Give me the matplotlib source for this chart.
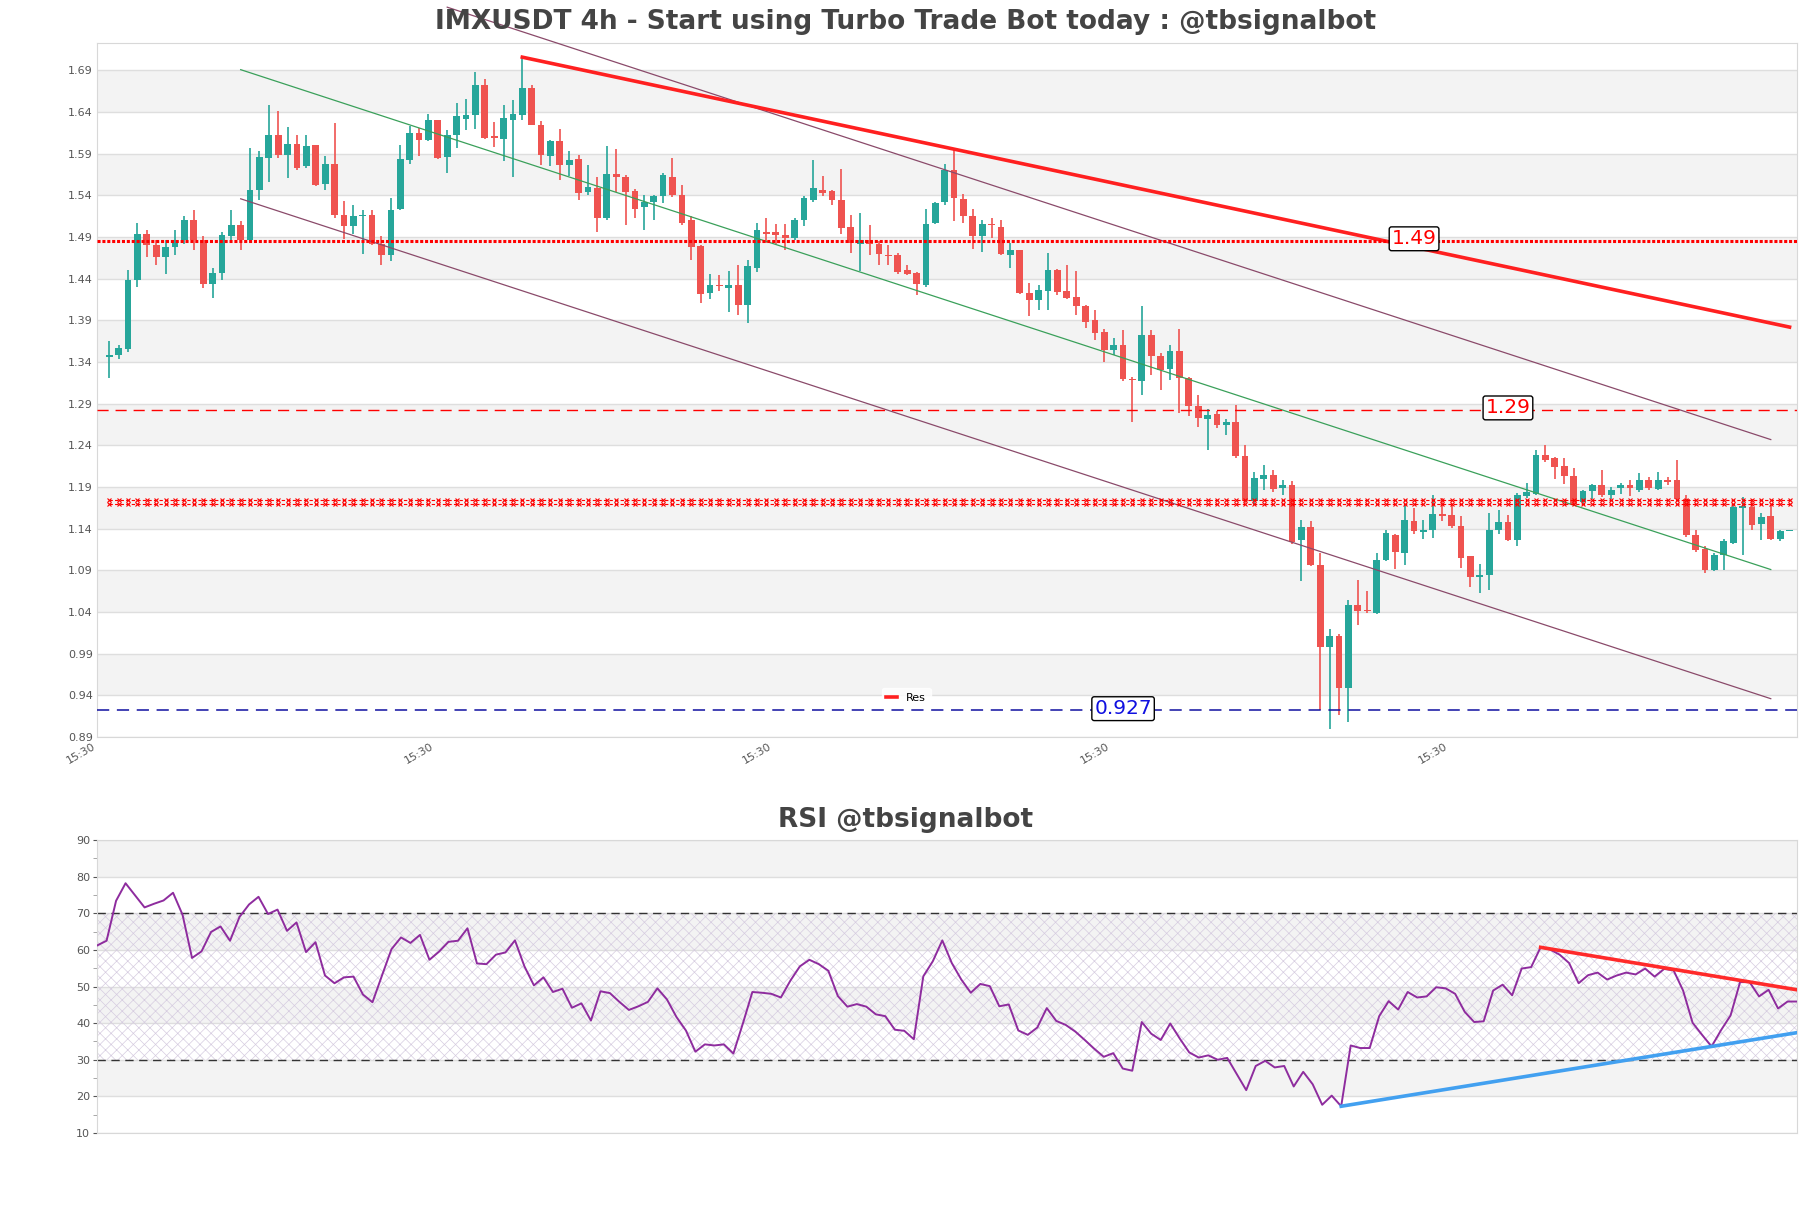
import numpy as np
import matplotlib
matplotlib.use('Agg')
import matplotlib.pyplot as plt

# IMXUSDT 4h candles (open, high, low, close)
opens = [1.350, 1.353, 1.360, 1.442, 1.498, 1.485, 1.470, 1.482, 1.491, 1.515,
         1.491, 1.438, 1.451, 1.495, 1.508, 1.490, 1.550, 1.589, 1.616, 1.593,
         1.606, 1.579, 1.605, 1.558, 1.582, 1.521, 1.507, 1.519, 1.521, 1.486,
         1.472, 1.528, 1.586, 1.619, 1.610, 1.634, 1.590, 1.617, 1.636, 1.640,
         1.676, 1.615, 1.612, 1.635, 1.640, 1.673, 1.629, 1.591, 1.609, 1.580,
         1.588, 1.548, 1.553, 1.517, 1.570, 1.566, 1.549, 1.530, 1.536, 1.543,
         1.566, 1.545, 1.514, 1.483, 1.427, 1.437, 1.433, 1.436, 1.413, 1.457,
         1.500, 1.500, 1.497, 1.493, 1.514, 1.538, 1.551, 1.549, 1.539, 1.506,
         1.486, 1.491, 1.486, 1.473, 1.472, 1.454, 1.451, 1.436, 1.511, 1.536,
         1.574, 1.540, 1.519, 1.495, 1.510, 1.506, 1.473, 1.478, 1.427, 1.419,
         1.429, 1.455, 1.429, 1.422, 1.411, 1.394, 1.380, 1.358, 1.364, 1.324,
         1.321, 1.376, 1.351, 1.336, 1.357, 1.325, 1.291, 1.276, 1.282, 1.268,
         1.272, 1.231, 1.177, 1.204, 1.209, 1.193, 1.196, 1.130, 1.146, 1.101,
         1.002, 1.015, 0.953, 1.052, 1.047, 1.043, 1.106, 1.137, 1.115, 1.153,
         1.140, 1.142, 1.162, 1.160, 1.147, 1.111, 1.086, 1.088, 1.142, 1.152,
         1.130, 1.183, 1.186, 1.232, 1.229, 1.219, 1.207, 1.176, 1.189, 1.196,
         1.185, 1.193, 1.196, 1.191, 1.202, 1.192, 1.203, 1.202, 1.180, 1.137,
         1.120, 1.094, 1.113, 1.127, 1.169, 1.170, 1.150, 1.159, 1.132, 1.141]
highs = [1.369, 1.364, 1.454, 1.511, 1.503, 1.491, 1.490, 1.503, 1.519, 1.527,
         1.495, 1.457, 1.500, 1.527, 1.513, 1.601, 1.597, 1.652, 1.645, 1.626,
         1.617, 1.616, 1.605, 1.591, 1.631, 1.537, 1.533, 1.526, 1.527, 1.495,
         1.541, 1.604, 1.627, 1.625, 1.642, 1.635, 1.622, 1.655, 1.660, 1.692,
         1.684, 1.632, 1.652, 1.659, 1.710, 1.676, 1.633, 1.611, 1.624, 1.597,
         1.592, 1.581, 1.566, 1.603, 1.600, 1.569, 1.552, 1.545, 1.544, 1.571,
         1.589, 1.557, 1.519, 1.485, 1.450, 1.449, 1.453, 1.460, 1.467, 1.511,
         1.517, 1.510, 1.510, 1.517, 1.543, 1.587, 1.567, 1.550, 1.576, 1.520,
         1.523, 1.509, 1.489, 1.484, 1.475, 1.460, 1.452, 1.528, 1.536, 1.582,
         1.600, 1.546, 1.528, 1.515, 1.517, 1.514, 1.487, 1.479, 1.439, 1.436,
         1.475, 1.456, 1.461, 1.453, 1.412, 1.407, 1.384, 1.373, 1.382, 1.326,
         1.411, 1.382, 1.355, 1.365, 1.384, 1.326, 1.304, 1.288, 1.285, 1.276,
         1.292, 1.244, 1.212, 1.220, 1.214, 1.203, 1.201, 1.154, 1.153, 1.115,
         1.024, 1.018, 1.058, 1.083, 1.069, 1.115, 1.142, 1.138, 1.173, 1.169,
         1.155, 1.185, 1.181, 1.173, 1.159, 1.111, 1.102, 1.163, 1.166, 1.160,
         1.187, 1.199, 1.239, 1.244, 1.230, 1.229, 1.217, 1.191, 1.198, 1.214,
         1.194, 1.199, 1.202, 1.211, 1.206, 1.212, 1.206, 1.226, 1.184, 1.142,
         1.123, 1.115, 1.132, 1.172, 1.182, 1.180, 1.163, 1.172, 1.143, 1.142]
lows = [1.325, 1.348, 1.356, 1.434, 1.470, 1.461, 1.450, 1.473, 1.486, 1.478,
        1.433, 1.421, 1.443, 1.487, 1.478, 1.489, 1.538, 1.560, 1.589, 1.565,
        1.575, 1.577, 1.555, 1.551, 1.517, 1.492, 1.498, 1.474, 1.484, 1.460,
        1.465, 1.527, 1.582, 1.591, 1.609, 1.588, 1.571, 1.601, 1.622, 1.624,
        1.612, 1.602, 1.585, 1.566, 1.634, 1.628, 1.581, 1.579, 1.563, 1.567,
        1.539, 1.545, 1.500, 1.515, 1.548, 1.508, 1.517, 1.503, 1.515, 1.535,
        1.542, 1.509, 1.466, 1.415, 1.420, 1.429, 1.404, 1.400, 1.391, 1.452,
        1.487, 1.486, 1.479, 1.491, 1.507, 1.536, 1.543, 1.532, 1.498, 1.475,
        1.453, 1.472, 1.460, 1.461, 1.450, 1.448, 1.425, 1.434, 1.510, 1.533,
        1.513, 1.511, 1.480, 1.476, 1.493, 1.473, 1.457, 1.426, 1.399, 1.406,
        1.406, 1.425, 1.420, 1.401, 1.385, 1.371, 1.344, 1.352, 1.321, 1.272,
        1.305, 1.328, 1.310, 1.322, 1.283, 1.279, 1.266, 1.238, 1.265, 1.257,
        1.229, 1.175, 1.173, 1.190, 1.188, 1.185, 1.126, 1.081, 1.099, 0.927,
        0.904, 0.920, 0.912, 1.029, 1.043, 1.042, 1.105, 1.096, 1.101, 1.138,
        1.132, 1.133, 1.153, 1.145, 1.097, 1.074, 1.067, 1.070, 1.138, 1.129,
        1.123, 1.181, 1.185, 1.224, 1.204, 1.198, 1.173, 1.172, 1.180, 1.182,
        1.180, 1.186, 1.183, 1.188, 1.190, 1.190, 1.196, 1.179, 1.134, 1.116,
        1.091, 1.093, 1.094, 1.126, 1.112, 1.142, 1.130, 1.131, 1.129, 1.141]
closes = [1.353, 1.361, 1.442, 1.498, 1.485, 1.470, 1.482, 1.491, 1.515, 1.491,
          1.438, 1.451, 1.496, 1.508, 1.490, 1.550, 1.590, 1.616, 1.593, 1.606,
          1.577, 1.603, 1.557, 1.582, 1.521, 1.507, 1.519, 1.521, 1.486, 1.473,
          1.527, 1.588, 1.619, 1.610, 1.634, 1.589, 1.617, 1.639, 1.641, 1.676,
          1.613, 1.613, 1.637, 1.642, 1.673, 1.629, 1.593, 1.609, 1.580, 1.586,
          1.547, 1.554, 1.517, 1.570, 1.566, 1.548, 1.528, 1.536, 1.543, 1.568,
          1.544, 1.511, 1.482, 1.426, 1.437, 1.435, 1.437, 1.413, 1.459, 1.502,
          1.498, 1.497, 1.493, 1.515, 1.541, 1.553, 1.547, 1.538, 1.505, 1.487,
          1.490, 1.486, 1.474, 1.471, 1.452, 1.450, 1.438, 1.510, 1.535, 1.574,
          1.541, 1.519, 1.495, 1.510, 1.508, 1.474, 1.478, 1.427, 1.419, 1.430,
          1.455, 1.428, 1.421, 1.411, 1.392, 1.379, 1.359, 1.364, 1.324, 1.322,
          1.376, 1.351, 1.335, 1.357, 1.325, 1.291, 1.277, 1.281, 1.268, 1.272,
          1.231, 1.177, 1.205, 1.209, 1.192, 1.196, 1.128, 1.146, 1.101, 1.002,
          1.015, 0.953, 1.052, 1.045, 1.045, 1.107, 1.139, 1.116, 1.154, 1.141,
          1.142, 1.162, 1.159, 1.147, 1.109, 1.086, 1.089, 1.142, 1.152, 1.130,
          1.184, 1.188, 1.232, 1.227, 1.218, 1.207, 1.174, 1.189, 1.196, 1.184,
          1.191, 1.196, 1.193, 1.202, 1.193, 1.202, 1.200, 1.180, 1.137, 1.118,
          1.094, 1.113, 1.129, 1.170, 1.171, 1.149, 1.158, 1.132, 1.141, 1.142]

rsi = [61.2, 62.5, 73.4, 78.2, 74.9, 71.6, 72.6, 73.5, 75.6, 69.6,
       57.8, 59.6, 64.9, 66.4, 62.5, 69.0, 72.4, 74.5, 69.8, 71.0,
       65.2, 67.5, 59.4, 62.1, 53.0, 50.9, 52.5, 52.7, 47.8, 45.7,
       53.0, 60.2, 63.4, 61.9, 64.1, 57.3, 59.5, 62.2, 62.5, 65.9,
       56.3, 56.1, 58.7, 59.3, 62.6, 55.5, 50.3, 52.5, 48.5, 49.4,
       44.2, 45.4, 40.7, 48.7, 48.2, 45.8, 43.6, 44.6, 45.8, 49.5,
       46.5, 41.7, 38.0, 32.2, 34.2, 33.9, 34.2, 31.7, 39.9, 48.5,
       48.3, 48.0, 47.0, 51.6, 55.5, 57.3, 56.1, 54.3, 47.4, 44.5,
       45.2, 44.5, 42.4, 41.9, 38.2, 37.9, 35.6, 52.8, 56.9, 62.6,
       56.4, 51.9, 48.3, 50.7, 50.1, 44.6, 45.1, 38.0, 36.8, 38.8,
       44.1, 40.6, 39.5, 37.7, 35.4, 33.0, 30.8, 31.8, 27.6, 27.0,
       40.3, 37.1, 35.4, 39.9, 35.8, 32.0, 30.6, 31.2, 30.0, 30.5,
       26.1, 21.7, 28.3, 29.7, 27.9, 28.3, 22.7, 26.7, 23.3, 17.7,
       20.2, 17.3, 33.9, 33.2, 33.2, 41.9, 46.0, 43.7, 48.5, 47.0,
       47.3, 49.8, 49.5, 48.0, 43.1, 40.3, 40.5, 48.9, 50.5, 47.6,
       54.9, 55.3, 60.7, 60.1, 58.7, 56.4, 50.9, 53.1, 53.8, 51.9,
       53.0, 53.8, 53.3, 54.9, 52.7, 54.8, 54.4, 48.9, 40.1, 36.8,
       33.6, 38.1, 42.1, 51.2, 51.2, 47.3, 49.1, 44.0, 45.9, 45.9]

# trend lines: (start index, start value, end index, end value)
res_line = (44, 1.710, 179, 1.386)
channel_top = (36, 1.770, 177, 1.251)
channel_mid = (14, 1.695, 177, 1.095)
channel_low = (14, 1.540, 177, 0.940)
rsi_res = (152, 60.7, 179, 49.1)
rsi_sup = (131, 17.3, 179, 37.4)

# horizontal levels and their labels
level_149 = 1.4897
level_129 = 1.2865
level_0927 = 0.927
level_mid = [1.1785, 1.1735]
label_149 = (139, 1.492, '1.49')
label_129 = (149, 1.289, '1.29')
label_0927 = (108, 0.928, '0.927')

yticks = np.arange(0.894, 1.70, 0.05)
rsi_ticks = np.arange(10, 91, 10)
xtick_pos = [-1.3, 34.7, 70.7, 106.7, 142.7]
xtick_lab = ['15:30'] * 5

UP = '#26a69a'
DOWN = '#ef5350'
GRID = '#dedede'
TXT = '#555555'

fig = plt.figure(figsize=(18.11, 12.08), dpi=100)
ax = fig.add_axes([0.0536, 0.3899, 0.9387, 0.5745])
rx = fig.add_axes([0.0536, 0.0621, 0.9387, 0.2425])

x = np.arange(len(closes))
o = np.array(opens)
c = np.array(closes)
h = np.array(highs)
l = np.array(lows)
cols = [UP if cc >= oo else DOWN for oo, cc in zip(o, c)]

# background bands
for k in range(len(yticks) - 1):
    if k % 2 == 1:
        ax.axhspan(yticks[k], yticks[k + 1], color='#f3f3f3', zorder=0, lw=0)
for yt in yticks:
    ax.axhline(yt, color=GRID, lw=1, zorder=0.5)

ax.vlines(x, l, h, colors=cols, lw=1.2, zorder=2)
body = np.maximum(np.abs(c - o), 0.0015)
ax.bar(x, body, bottom=np.minimum(o, c), width=0.72, color=cols, zorder=2.5)


def seg(a, s, **kw):
    return a.plot([s[0], s[2]], [s[1], s[3]], **kw)


seg(ax, channel_top, color='#8a4a6a', lw=0.9, zorder=3, clip_on=False)
seg(ax, channel_mid, color='#3aa05a', lw=0.9, zorder=3)
seg(ax, channel_low, color='#8a4a6a', lw=0.9, zorder=3)
seg(ax, res_line, color='#ff2020', lw=2.6, zorder=3, label='Res')

ax.axhline(level_149, color='red', ls=(0, (1, 0.6)), lw=2.2, zorder=3)
ax.axhline(level_129, color='red', ls=(0, (8, 5)), lw=1.0, zorder=3)
ax.axhline(level_0927, color='#1010a0', ls=(0, (8, 5)), lw=1.1, zorder=3)
for lv in level_mid:
    ax.plot(x, [lv] * len(x), color='red', ls=(0, (3, 2)), lw=0.8,
            marker='x', ms=3, mew=0.8, zorder=3)

box = dict(boxstyle='round,pad=0.12', fc='white', ec='black', lw=1)
ax.text(label_149[0], label_149[1], label_149[2], color='red', fontsize=14.5,
        ha='center', va='center', bbox=box, zorder=5)
ax.text(label_129[0], label_129[1], label_129[2], color='red', fontsize=14.5,
        ha='center', va='center', bbox=box, zorder=5)
ax.text(label_0927[0], label_0927[1], label_0927[2], color='#1010e0', fontsize=14.5,
        ha='center', va='center', bbox=box, zorder=5)

ax.set_xlim(-0.95, 179.8)
ax.set_ylim(0.894, 1.727)
ax.set_yticks(yticks)
ax.set_yticklabels(['%.2f' % v for v in yticks])
ax.set_xticks(xtick_pos)
ax.set_xticklabels(xtick_lab, rotation=30, ha='right')
ax.tick_params(axis='both', length=0, labelsize=8, colors=TXT, pad=3)
for sp in ax.spines.values():
    sp.set_color('#d8d8d8')

leg = ax.legend(loc='lower center', bbox_to_anchor=(0.476, 0.035), fontsize=8,
                frameon=True, handlelength=1.0, borderpad=0.4)
leg.get_frame().set_edgecolor('white')
leg.get_frame().set_facecolor('white')

fig.text(0.5, 0.982, 'IMXUSDT 4h - Start using Turbo Trade Bot today : @tbsignalbot',
         ha='center', va='center', fontsize=19, fontweight='bold', color='#444444')

# RSI panel
xr = np.arange(len(rsi))
for k in range(len(rsi_ticks) - 1):
    if k % 2 == 1:
        rx.axhspan(rsi_ticks[k], rsi_ticks[k + 1], color='#f3f3f3', zorder=0, lw=0)
for yt in rsi_ticks:
    rx.axhline(yt, color=GRID, lw=1, zorder=0.5)
plt.rcParams['hatch.linewidth'] = 0.5
rx.axhspan(30, 70, facecolor='none', edgecolor='#d6cce0', hatch='xxx', lw=0, zorder=0.6)
rx.axhline(70, color='#333333', ls=(0, (6, 4)), lw=1, zorder=1)
rx.axhline(30, color='#333333', ls=(0, (6, 4)), lw=1, zorder=1)
rx.plot(xr, rsi, color='#8e2c9e', lw=1.4, zorder=3)
seg(rx, rsi_res, color='#ff2a2a', lw=2.6, zorder=4)
seg(rx, rsi_sup, color='#42a0f0', lw=2.6, zorder=4)

rx.set_xlim(0, len(rsi) - 1)
rx.set_ylim(10, 90)
rx.set_yticks(rsi_ticks)
rx.set_yticks(np.arange(15, 90, 10), minor=True)
rx.set_xticks([])
rx.tick_params(axis='y', which='major', length=3, labelsize=8, colors=TXT, pad=2)
rx.tick_params(axis='y', which='minor', length=3, colors='#999999')
for sp in rx.spines.values():
    sp.set_color('#d8d8d8')
fig.text(0.5, 0.321, 'RSI @tbsignalbot', ha='center', va='center',
         fontsize=19, fontweight='bold', color='#444444')

fig.savefig('out.png', dpi=100)
